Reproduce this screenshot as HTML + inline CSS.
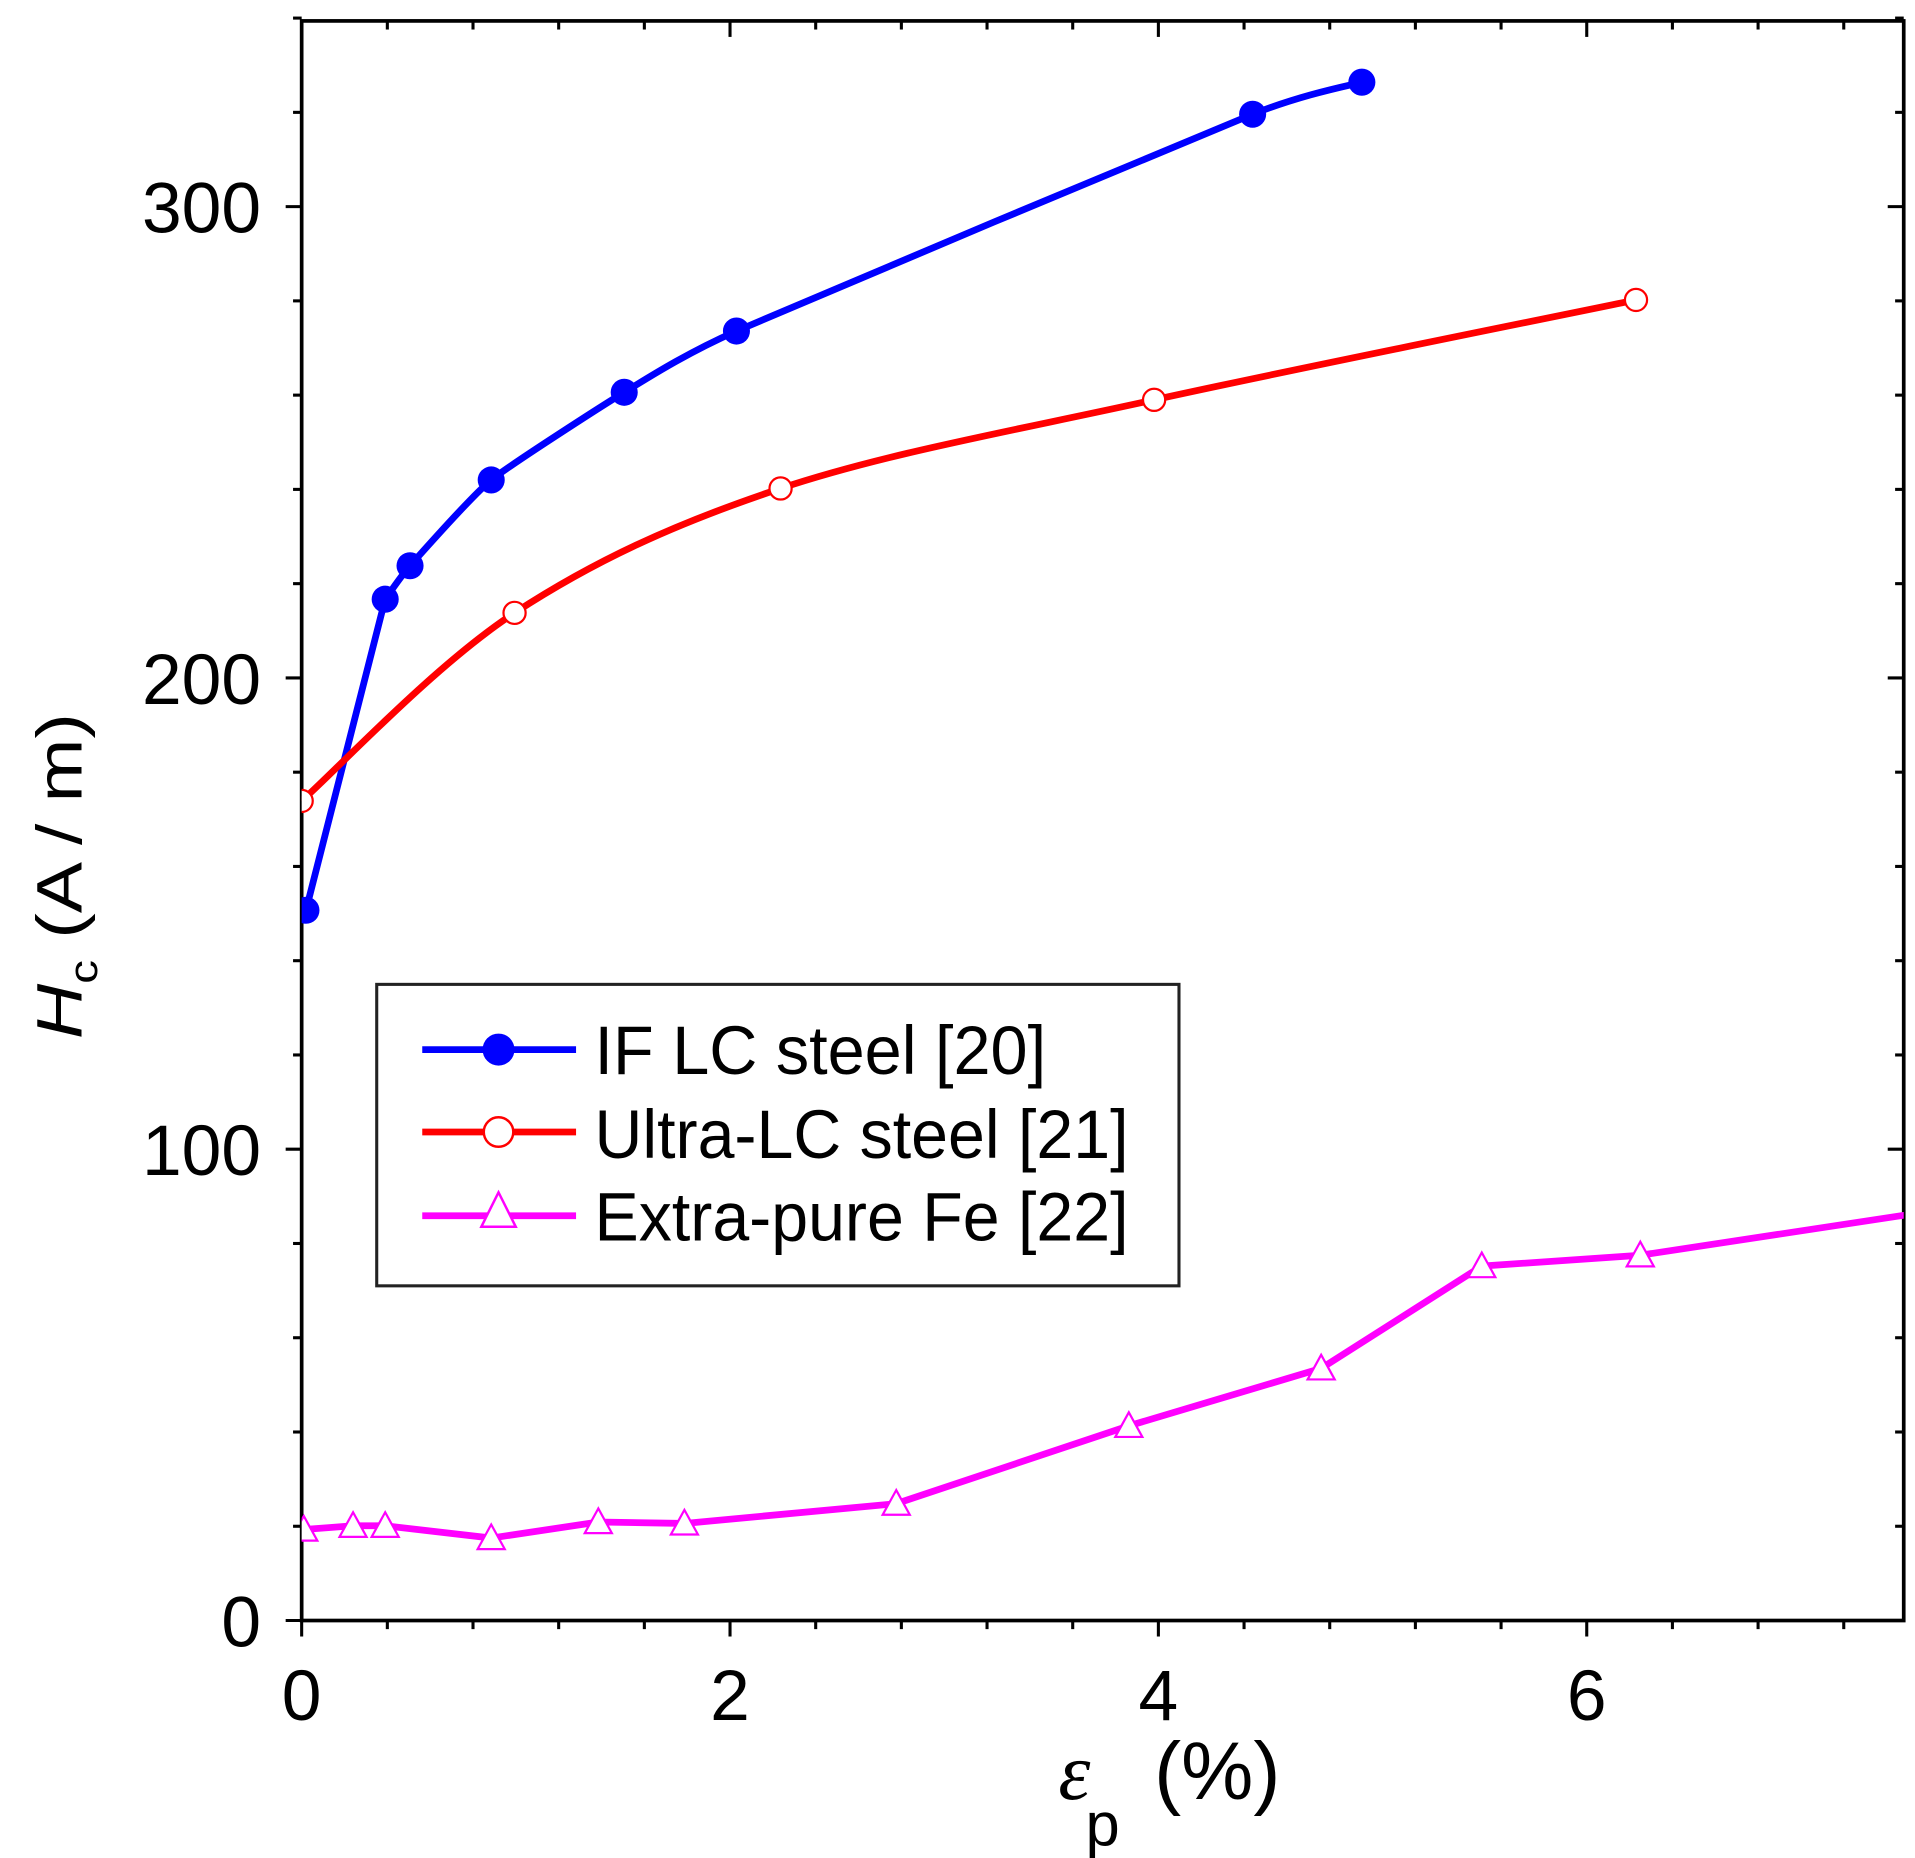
<!DOCTYPE html>
<html><head><meta charset="utf-8"><style>
html,body{margin:0;padding:0;background:#fff}
svg{display:block}
text{font-family:"Liberation Sans",Arial,sans-serif;fill:#000}
</style></head><body>
<svg id="chart" width="1915" height="1858" viewBox="0 0 1556 1510" xmlns="http://www.w3.org/2000/svg">
<defs><clipPath id="clip"><rect x="245" y="17" width="1302" height="1300"/></clipPath></defs>
<g id="axes"></g>
<g id="series" clip-path="url(#clip)"></g>
<text transform="translate(66,712) rotate(-90) scale(1,0.9)" text-anchor="middle" font-size="58" textLength="265" lengthAdjust="spacingAndGlyphs"><tspan font-style="italic">H</tspan><tspan font-size="36" dy="14">c</tspan><tspan dy="-14"> (A / m)</tspan></text>
<text x="860" y="1462" font-size="66"><tspan font-style="italic" font-family="Liberation Serif, serif">ε</tspan><tspan font-size="50" dy="38" dx="-4">p</tspan><tspan dy="-38" dx="28">(%)</tspan></text>
<g>
<rect x="306" y="800" width="652" height="245" fill="#fff" stroke="#222" stroke-width="2.5"/>
<line x1="343" y1="853" x2="468" y2="853" stroke="#0000ff" stroke-width="5.5"/>
<circle cx="405" cy="853" r="13" fill="#0000ff"/>
<text x="483" y="873" font-size="56" textLength="367" lengthAdjust="spacingAndGlyphs">IF LC steel [20]</text>
<line x1="343" y1="920" x2="468" y2="920" stroke="#ff0000" stroke-width="5.5"/>
<circle cx="405" cy="920" r="12" fill="#fff" stroke="#ff0000" stroke-width="2"/>
<text x="483" y="941" font-size="56" textLength="434" lengthAdjust="spacingAndGlyphs">Ultra-LC steel [21]</text>
<line x1="343" y1="988" x2="468" y2="988" stroke="#ff00ff" stroke-width="5.5"/>
<polygon points="405,969 391,997 419,997" fill="#fff" stroke="#ff00ff" stroke-width="2"/>
<text x="483" y="1008" font-size="56" textLength="434" lengthAdjust="spacingAndGlyphs">Extra-pure Fe [22]</text>
</g>
</svg>
<script>
const xTicks=[0,2,4,6];
const yTicks=[0,100,200,300];
const ifX=[0.02,0.39,0.506,0.885,1.506,2.03,4.44,4.95];
const ifY=[150.7,216.7,223.8,242,260.6,273.6,319.6,326.4];
const ulX=[0,0.994,2.236,3.98,6.23];
const ulY=[173.9,213.8,240.2,259,280.2];
const feX=[0.01,0.24,0.39,0.885,1.385,1.787,2.776,3.862,4.76,5.51,6.25,7.7];
const feY=[19.3,20.1,20.1,17.5,20.9,20.6,24.8,41.3,53.5,75.2,77.5,87.5];
const X0=245,X1=1547,Y0=1317,Y1=17,XMAX=7.5,YMAX=340;
function sx(v){return X0+(v/XMAX)*(X1-X0)*(7.5/7.48);}
function sy(v){return Y0-(v/YMAX)*(Y0-Y1)*(340/339.4);}
const NS='http://www.w3.org/2000/svg';
function mk(tag,attrs,parent){const e=document.createElementNS(NS,tag);for(const k in attrs)e.setAttribute(k,attrs[k]);parent.appendChild(e);return e;}
const axes=document.getElementById('axes');
const ser=document.getElementById('series');
const fr=mk('rect',{x:X0,y:Y1,width:X1-X0,height:Y0-Y1,fill:'none',stroke:'#000','stroke-width':3},axes);


for(let i=0;i*0.4<=7.5+1e-9;i++){const v=i*0.4;const major=Math.abs(v/2-Math.round(v/2))<1e-6;const x=sx(v);const L=major?13:7;
 const t=mk('line',{x1:x,y1:Y0,x2:x,y2:Y0+L,stroke:'#000','stroke-width':2.5},axes);
 
 
 const t2=mk('line',{x1:x,y1:Y1,x2:x,y2:Y1+L,stroke:'#000','stroke-width':2.5},axes);
 
 }
xTicks.forEach(v=>{const t=mk('text',{x:sx(v),y:1398,'font-size':58,'text-anchor':'middle'},axes);t.textContent=v;
 
 });
for(let v=0;v<=YMAX;v+=20){const y=sy(v);const major=v%100===0;const L=major?13:7;
 const t=mk('line',{x1:X0-L,y1:y,x2:X0,y2:y,stroke:'#000','stroke-width':2.5},axes);
 
 
 const t2=mk('line',{x1:X1-L,y1:y,x2:X1,y2:y,stroke:'#000','stroke-width':2.5},axes);
 
 }
yTicks.forEach(v=>{const t=mk('text',{x:212,y:sy(v)+21,'font-size':58,'text-anchor':'end'},axes);t.textContent=v;
 
 });
function smooth(pts,k){let d='M'+pts[0][0]+','+pts[0][1];
 for(let i=0;i<pts.length-1;i++){const p0=pts[i-1]||pts[i],p1=pts[i],p2=pts[i+1],p3=pts[i+2]||p2;
  const c1=[p1[0]+(p2[0]-p0[0])/k,p1[1]+(p2[1]-p0[1])/k],c2=[p2[0]-(p3[0]-p1[0])/k,p2[1]-(p3[1]-p1[1])/k];
  d+=' C'+c1+' '+c2+' '+p2;}return d;}
const bp=ifX.map((x,i)=>[sx(x),sy(ifY[i])]);
const bl=mk('path',{d:'M'+bp[0]+' L'+bp[1]+' '+smooth(bp.slice(1),12).replace(/^M[^ ]+/,''),fill:'none',stroke:'#0000ff','stroke-width':5.5},ser);


const rp=ulX.map((x,i)=>[sx(x),sy(ulY[i])]);
const rl=mk('path',{d:smooth(rp,6),fill:'none',stroke:'#ff0000','stroke-width':5.5},ser);


const mp=feX.map((x,i)=>[sx(x),sy(feY[i])]);
const ml=mk('polyline',{points:mp.map(p=>p.join(',')).join(' '),fill:'none',stroke:'#ff00ff','stroke-width':5.5},ser);


bp.forEach(p=>{const c=mk('circle',{cx:p[0],cy:p[1],r:11,fill:'#0000ff'},ser);
 
 });
rp.forEach(p=>{const c=mk('circle',{cx:p[0],cy:p[1],r:9,fill:'#fff',stroke:'#ff0000','stroke-width':1.8},ser);
 
 });
mp.forEach(p=>{const c=mk('polygon',{points:`${p[0]},${p[1]-11} ${p[0]-11},${p[1]+9} ${p[0]+11},${p[1]+9}`,fill:'#fff',stroke:'#ff00ff','stroke-width':1.8},ser);
 
 });
</script>
</body></html>
